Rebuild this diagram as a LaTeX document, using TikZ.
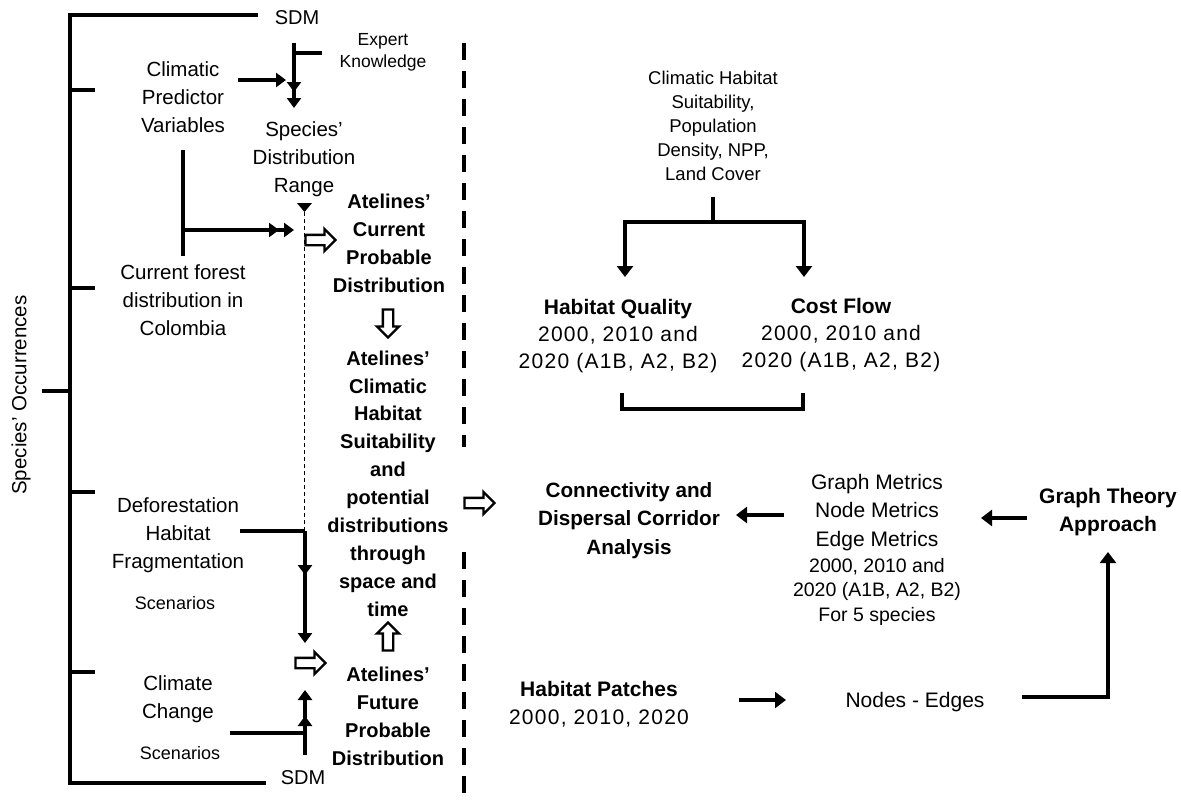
\documentclass[tikz,border=0pt]{standalone}
\usepackage{fontspec}
\setmainfont{Liberation Sans}
\usetikzlibrary{arrows.meta,shapes.arrows}
\newcommand\setsz[2]{\fontsize{#1}{#2}\selectfont}
\newcommand\wideyr{\addfontfeature{LetterSpace=6}}

\tikzset{
  ln/.style={line width=3.2pt},
  arr/.style={ln,-{Triangle[width=14pt,length=10pt]}},
  arrb/.style={ln,-{Triangle[width=16pt,length=11pt]}},
  txt/.style={inner sep=0pt,align=center},
  lab/.style={txt,font=\setsz{20.5}{28}},
  bld/.style={txt,font=\bfseries\setsz{20}{27.9}},
  small/.style={txt,font=\setsz{17.5}{22}},
  scen/.style={txt,font=\setsz{18}{22}},
  rlab/.style={txt,font=\setsz{21}{27}},
  hol/.style={single arrow,draw,line width=2.3pt,fill=white,inner sep=4pt,
    single arrow head extend=6pt,minimum height=30pt,single arrow head indent=0pt},
  divider/.style={line width=3.8pt,dash pattern=on 17pt off 11pt},
  guide/.style={line width=0.8pt,dash pattern=on 4pt off 3pt},
}

\begin{document}
\begin{tikzpicture}[x=1pt,y=-1pt]
\useasboundingbox (0,0) rectangle (1181,801);

% ---------- left column: inputs ----------
\node[txt,font=\setsz{20.5}{24},rotate=90] (occ) at (21,395) {Species’ Occurrences};
\node[txt,font=\setsz{20}{24}] (sdmtop) at (297,18) {SDM};
\node[txt,font=\setsz{20}{24}] (sdmbot) at (303,778) {SDM};
\node[lab] (clim) at (183,97) {Climatic\\Predictor\\Variables};
\node[small] (expert) at (383,52) {Expert\\Knowledge};
\node[lab] (sdr) at (304,159) {Species’\\Distribution\\Range};
\node[lab] (forest) at (183,300) {Current forest\\distribution in\\Colombia};
\node[lab] (defor) at (178,535) {Deforestation\\Habitat\\Fragmentation};
\node[scen] (scen1) at (175,603) {Scenarios};
\node[lab] (cc) at (178,699) {Climate\\Change};
\node[scen] (scen2) at (180,753) {Scenarios};

% ---------- left column: outputs ----------
\node[bld] (cur) at (389,243) {Atelines’\\Current\\Probable\\Distribution};
\node[bld] (suit) at (388,483.5) {Atelines’\\Climatic\\Habitat\\Suitability\\and\\potential\\distributions\\through\\space and\\time};
\node[bld] (fut) at (388,716.5) {Atelines’\\Future\\Probable\\Distribution};

% hollow block arrows
\node[hol] (ha1) at (318,240) {};
\node[hol,shape border rotate=270,minimum height=28pt] (ha2) at (388,321) {};
\node[hol,shape border rotate=90,minimum height=28pt] (ha3) at (388,639) {};
\node[hol] (ha4) at (308,663) {};
\node[hol] (ha5) at (477,503) {};

% ---------- occurrence bracket ----------
\coordinate (bTop) at (258,15);
\coordinate (bTL) at (70,15);
\coordinate (bBL) at (70,783);
\coordinate (bBot) at (266,783);
\draw[ln] (bTop) -- (bTL) -- (bBL) -- (bBot);
\foreach \yy in {90,288,492,672} \draw[ln] (70,\yy) -- (95,\yy);
\coordinate (occTick) at (42,391);
\draw[ln] (occTick) -- (70,391);

% ---------- SDM inputs ----------
\coordinate (climEnd) at (238,80);
\coordinate (climTip) at (286,80);
\draw[arr] (climEnd) -- (climTip);
\coordinate (expA) at (322,53);
\coordinate (expB) at (294,53);
\coordinate (vTop) at (294,43);
\coordinate (vMid) at (294,92);
\coordinate (vMid2) at (294,88);
\coordinate (vEnd) at (294,108);
\draw[ln] (expA) -- (expB);
\draw[arr] (vTop) -- (vMid);
\draw[arr] (vMid2) -- (vEnd);

% current forest branch
\coordinate (fTop) at (183,150);
\coordinate (fBot) at (183,256);
\coordinate (fJ) at (183,230);
\coordinate (fMid) at (279,230);
\coordinate (fMid2) at (275,230);
\coordinate (fEnd) at (294,230);
\draw[ln] (fTop) -- (fBot);
\draw[arr] (fJ) -- (fMid);
\draw[arr] (fMid2) -- (fEnd);

% range marker and guide line
\coordinate (gTop) at (304.5,212);
\coordinate (gBot) at (304.5,531);
\fill (297,203) -- (312,203) -- (gTop) -- cycle;
\draw[guide] (gTop) -- (gBot);

% deforestation branch
\coordinate (dA) at (240,531);
\coordinate (dB) at (305,531);
\coordinate (dMid) at (305,575);
\coordinate (dMid2) at (305,570);
\coordinate (dEnd) at (305,643);
\draw[ln] (dA) -- (dB);
\draw[arr] (dB) -- (dMid);
\draw[arr] (dMid2) -- (dEnd);

% climate change branch
\coordinate (cA) at (230,733);
\coordinate (cB) at (305,733);
\coordinate (cLow) at (305,755);
\coordinate (cMid) at (305,716);
\coordinate (cMid2) at (305,720);
\coordinate (cEnd) at (305,690);
\draw[ln] (cA) -- (cB);
\draw[arr] (cLow) -- (cMid);
\draw[arr] (cMid2) -- (cEnd);

% ---------- divider ----------
\coordinate (dvA) at (464,43);
\coordinate (dvB) at (464,447);
\coordinate (dvC) at (464,552);
\coordinate (dvD) at (464,801);
\draw[divider] (dvA) -- (dvB);
\draw[divider] (dvC) -- (dvD);

% ---------- right part ----------
\node[txt,font=\setsz{18.5}{24}] (inputs) at (713,126)
  {Climatic Habitat\\Suitability,\\Population\\Density, NPP,\\Land Cover};
\node[rlab] (hq) at (618,336.5) {\textbf{Habitat Quality}\\{\wideyr 2000, 2010 and}\\{\wideyr 2020 (A1B, A2, B2)}};
\node[rlab] (cf) at (841,335) {\textbf{Cost Flow}\\{\wideyr 2000, 2010 and}\\{\wideyr 2020 (A1B, A2, B2)}};

\coordinate (iA) at (713,197);
\coordinate (iJ) at (713,222);
\coordinate (iL) at (625,222);
\coordinate (iR) at (804,222);
\coordinate (iLt) at (625,277);
\coordinate (iRt) at (804,277);
\draw[ln] (iA) -- (iJ);
\draw[arrb] (iJ) -- (iL) -- (iLt);
\draw[arrb] (iJ) -- (iR) -- (iRt);

\coordinate (kA) at (622,393);
\coordinate (kB) at (622,409);
\coordinate (kC) at (803,409);
\coordinate (kD) at (803,393);
\draw[ln] (kA) -- (kB) -- (kC) -- (kD);

\node[txt,font=\bfseries\setsz{20.7}{28.5}] (conn) at (629,520.5)
  {Connectivity and\\Dispersal Corridor\\Analysis};
\node[txt,font=\setsz{21}{28.5}] (gm) at (877,512.5) {Graph Metrics\\Node Metrics\\Edge Metrics};
\node[txt,font=\setsz{19.5}{24.5}] (gmy) at (877,591.5) {2000, 2010 and\\2020 (A1B, A2, B2)\\For 5 species};
\node[txt,font=\bfseries\setsz{21}{28}] (gt) at (1108,512) {Graph Theory\\Approach};
\node[txt,font=\setsz{21}{28}] (hp) at (599,704) {\textbf{Habitat Patches}\\{\wideyr 2000, 2010, 2020}};
\node[txt,font=\setsz{21}{28}] (ne) at (915,702) {Nodes - Edges};

\coordinate (a1s) at (784,515);
\coordinate (a1e) at (736,515);
\draw[arrb] (a1s) -- (a1e);
\coordinate (a2s) at (1027,518);
\coordinate (a2e) at (981,518);
\draw[arrb] (a2s) -- (a2e);
\coordinate (a3s) at (739,700);
\coordinate (a3e) at (786,700);
\draw[arrb] (a3s) -- (a3e);
\coordinate (a4s) at (1022,697);
\coordinate (a4c) at (1108,697);
\coordinate (a4e) at (1108,552);
\draw[arrb] (a4s) -- (a4c) -- (a4e);
\end{tikzpicture}
\end{document}
